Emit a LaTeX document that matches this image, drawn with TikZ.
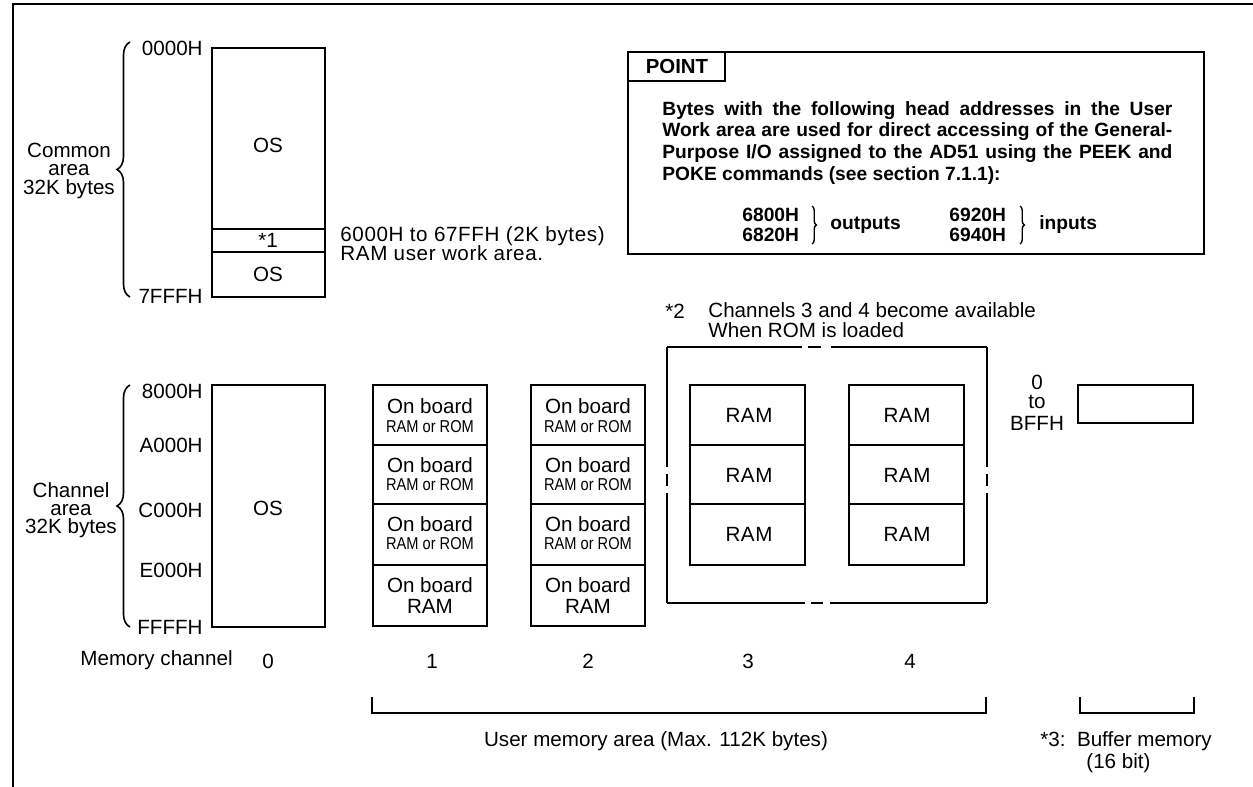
\documentclass[tikz,border=0pt]{standalone}
\usepackage{fontspec}
\setmainfont{Liberation Sans}
\newfontfamily\narrowfont[FakeStretch=0.85]{Liberation Sans}
\newfontfamily\widefont[LetterSpace=3]{Liberation Sans}
\usetikzlibrary{decorations.pathreplacing}
\newcommand\mainsz{\fontsize{10.3}{12}\selectfont}
\newcommand\smallsz{\narrowfont\fontsize{8.6}{10}\selectfont}
\begin{document}
\begin{tikzpicture}[x=0.5pt,y=-0.5pt,
  txt/.style={font=\mainsz, inner sep=0pt},
  wtxt/.style={font=\widefont\mainsz, inner sep=0pt},
  sml/.style={font=\smallsz, inner sep=0pt},
  ptx/.style={inner sep=0pt, anchor=west, font=\bfseries\fontsize{9.6}{12}\selectfont},
  box/.style={line width=1.1pt},
  div/.style={line width=0.8pt},
  frame/.style={line width=1.2pt},
  bigbrace/.style={decorate, decoration={brace, amplitude=6.5pt}, line width=0.8pt},
  smallbrace/.style={decorate, decoration={brace, amplitude=2.2pt}, line width=0.7pt},
  bkt/.style={line width=0.9pt}]
\useasboundingbox (0,0) rectangle (1253,787);

% outer frame
\draw[frame] (13,787) -- (13,4) -- (1253,4);

% ---------- common area ----------
\draw[box] (212,48) rectangle (325,297);
\draw[div] (212,229) -- (325,229);
\draw[div] (212,252) -- (325,252);
\node[txt] (os1) at (268,145) {OS};
\node[txt] (star1) at (268,240) {*1};
\node[txt] (os2) at (268,274) {OS};
\node[txt,anchor=east] (a0000) at (203,48) {0000H};
\node[txt,anchor=east] (a7fff) at (203,296) {7FFFH};
\coordinate (cbtop) at (130,42);
\coordinate (cbbot) at (130,297);
\draw[bigbrace] (cbbot) -- (cbtop);
\node[txt,anchor=base] (common) at (69,157) {Common};
\node[txt,anchor=base] (carea) at (69,175) {area};
\node[txt,anchor=base] (cbytes) at (69,194) {32K bytes};
\node[wtxt,anchor=west] (ramw1) at (340,236) {6000H to 67FFH (2K bytes)};
\node[wtxt,anchor=west] (ramw2) at (340,253) {RAM user work area.};

% ---------- POINT box ----------
\draw[box] (628,52) rectangle (1204,254);
\draw[box] (628,81) -- (725,81) -- (725,52);
\node[inner sep=0pt, font=\bfseries\fontsize{10.2}{12}\selectfont] (point) at (677,66) {POINT};
\node[anchor=north west, inner sep=0pt, text width=255pt, align=justify,
      font=\bfseries\fontsize{9.6}{10.8}\selectfont] (body) at (662,101)
  {\tolerance=9999 Bytes with the following head addresses in the User\linebreak
   Work area are used for direct accessing of the General-\linebreak
   Purpose I/O assigned to the AD51 using the PEEK and\linebreak
   POKE commands (see section 7.1.1):\par};
\node[ptx] (o1) at (742,215) {6800H};
\node[ptx] (o2) at (742,235) {6820H};
\draw[smallbrace] (812,206) -- (812,244);
\node[ptx] (outp) at (830,225) {outputs};
\node[ptx] (i1) at (949,215) {6920H};
\node[ptx] (i2) at (949,235) {6940H};
\draw[smallbrace] (1020,206) -- (1020,244);
\node[ptx] (inp) at (1039,225) {inputs};

% ---------- *2 note ----------
\node[txt,anchor=west] (star2) at (665,311) {*2};
\node[txt,anchor=west] (note2a) at (708,310) {Channels 3 and 4 become available};
\node[txt,anchor=west] (note2b) at (708,330) {When ROM is loaded};

% ---------- channel area ----------
\draw[box] (212,385) rectangle (325,627);
\node[txt] (os3) at (268,508) {OS};
\node[txt,anchor=east] (a8000) at (203,391) {8000H};
\node[txt,anchor=east] (aA000) at (203,445) {A000H};
\node[txt,anchor=east] (aC000) at (203,510) {C000H};
\node[txt,anchor=east] (aE000) at (203,570) {E000H};
\node[txt,anchor=east] (aFFFF) at (203,627) {FFFFH};
\coordinate (chtop) at (130,385);
\coordinate (chbot) at (130,627);
\draw[bigbrace] (chbot) -- (chtop);
\node[txt,anchor=base] (channel) at (71,497) {Channel};
\node[txt,anchor=base] (charea) at (71,515) {area};
\node[txt,anchor=base] (chbytes) at (71,533) {32K bytes};

% channels 1 and 2
\foreach \l/\c/\n in {373/430/1, 531/588/2}{
  \draw[box] (\l,385) rectangle ({\l+114},626);
  \draw[div] (\l,445) -- ({\l+114},445);
  \draw[div] (\l,504) -- ({\l+114},504);
  \draw[div] (\l,565) -- ({\l+114},565);
  \node[txt] (ob\n a) at (\c,406) {On board};
  \node[sml] (rr\n a) at (\c,427) {RAM or ROM};
  \node[txt] (ob\n b) at (\c,465) {On board};
  \node[sml] (rr\n b) at (\c,485) {RAM or ROM};
  \node[txt] (ob\n c) at (\c,524) {On board};
  \node[sml] (rr\n c) at (\c,544) {RAM or ROM};
  \node[txt] (ob\n d) at (\c,585) {On board};
  \node[txt] (ram\n d) at (\c,606) {RAM};
}

% dashed enclosure for channels 3 and 4
\draw[box] (667,347) -- (802,347) (808,347) -- (821,347) (831,347) -- (987,347);
\draw[box] (667,603) -- (805,603) (811,603) -- (823,603) (830,603) -- (987,603);
\draw[box] (667,347) -- (667,467) (667,474) -- (667,486) (667,493) -- (667,603);
\draw[box] (987,347) -- (987,467) (987,474) -- (987,486) (987,493) -- (987,603);

% channels 3 and 4
\foreach \l/\c/\n in {690/749/3, 849/907/4}{
  \draw[box] (\l,385) rectangle ({\l+115},565);
  \draw[div] (\l,445) -- ({\l+115},445);
  \draw[div] (\l,504) -- ({\l+115},504);
  \node[wtxt] (ram\n a) at (\c,415) {RAM};
  \node[wtxt] (ram\n b) at (\c,475) {RAM};
  \node[wtxt] (ram\n c) at (\c,534) {RAM};
}

% buffer memory
\draw[box] (1078,385) rectangle (1193,423);
\node[txt] (b0) at (1037,382) {0};
\node[txt] (bto) at (1037,402) {to};
\node[txt] (bffh) at (1037,423) {BFFH};

% memory channel row
\node[txt,anchor=west] (memch) at (80,660) {Memory channel};
\node[txt] (m0) at (268,661) {0};
\node[txt] (m1) at (432,661) {1};
\node[txt] (m2) at (588,661) {2};
\node[txt] (m3) at (748,661) {3};
\node[txt] (m4) at (910,661) {4};

% brackets
\coordinate (u1) at (372,697);
\coordinate (u2) at (372,713);
\coordinate (u3) at (986,713);
\coordinate (u4) at (986,697);
\draw[bkt] (u1) -- (u2) -- (u3) -- (u4);
\coordinate (v1) at (1080,697);
\coordinate (v2) at (1080,713);
\coordinate (v3) at (1194,713);
\coordinate (v4) at (1194,697);
\draw[bkt] (v1) -- (v2) -- (v3) -- (v4);
\node[txt] (umem) at (656,741) {User memory area (Max. 112K bytes)};
\node[txt,anchor=west] (buf1) at (1040,741) {*3:\ \ Buffer memory};
\node[txt,anchor=west] (buf2) at (1086,763) {(16 bit)};
\end{tikzpicture}
\end{document}
